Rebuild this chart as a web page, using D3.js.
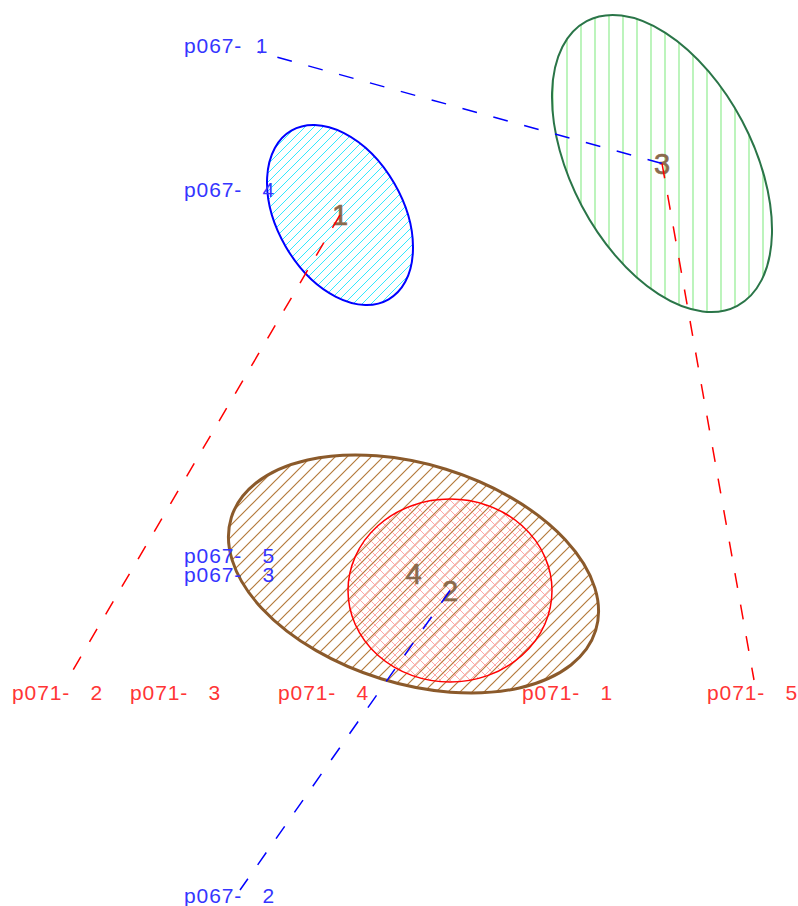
<!DOCTYPE html>
<html>
<head>
<meta charset="utf-8">
<script src="https://cdn.jsdelivr.net/npm/d3@7"></script>
<style>
  html, body { margin: 0; padding: 0; background: #ffffff; }
  svg { display: block; }
  text { font-family: "Liberation Sans", Arial, sans-serif; white-space: pre; }
</style>
</head>
<body>
<svg id="chart" width="798" height="906"></svg>
<script>
// ---- data (plot units; y up) ----
const clusterIds   = ["4", "2", "3", "1"];
const clusterCx    = [0.1687, 0.625, 3.275, -0.75];
const clusterCy    = [-1.5125, -1.719, 3.619, 2.975];
const clusterRx    = [2.384, 1.275, 1.134, 0.785];
const clusterRy    = [1.371, 1.144, 2.0125, 1.2175];
const clusterAngle = [-17.2, 0, 27.9, 30.0];   // degrees, counter-clockwise

const rowLabels = ["p067-  1", "p067-   4", "p067-   5", "p067-   3", "p067-   2"];
const rowX      = [-2.7, -2.7, -2.7, -2.7, -2.7];
const rowY      = [5.0, 3.2, -1.375, -1.6125, -5.625];

const colLabels = ["p071-   2", "p071-   3", "p071-   4", "p071-   1", "p071-   5"];
const colX      = [-4.85, -3.375, -1.525, 1.525, 3.8375];
const colY      = [-3.0875, -3.0875, -3.0875, -3.0875, -3.0875];

const linkCluster = ["3", "2", "1", "3"];
const linkGroup   = ["row", "row", "col", "col"];
const linkX       = [-1.775, -2.0, -4.0875, 4.425];
const linkY       = [5.0125, -5.4625, -2.7125, -2.8375];

// ---- scales ----
const x = d3.scaleLinear().domain([-5, 5]).range([0, 800]);
const y = d3.scaleLinear().domain([-5, 5]).range([853, 53]);
const len = v => x(v) - x(0);

const svg = d3.select("#chart");
const defs = svg.append("defs");

const styles = {
  "4": {stroke: "#8b5a2b", sw: 3,   pat: "hatchBrown"},
  "2": {stroke: "#ff0000", sw: 1.5, pat: "hatchPink"},
  "3": {stroke: "#2a7548", sw: 2,   pat: "hatchGreen"},
  "1": {stroke: "#0000ff", sw: 2,   pat: "hatchCyan"}
};

function pattern(id, size, d, color, w, crisp) {
  defs.append("pattern").attr("id", id)
    .attr("patternUnits", "userSpaceOnUse")
    .attr("width", size).attr("height", size)
    .append("path").attr("d", d)
    .attr("stroke", color).attr("stroke-width", w).attr("fill", "none")
    .attr("shape-rendering", crisp ? "crispEdges" : "auto");
}
const diag = s => `M0,${s}L${s},0M-2,2L2,-2M${s-2},${s+2}L${s+2},${s-2}`;
const anti = s => `M0,0L${s},${s}M-2,${s-2}L2,${s+2}M${s-2},-2L${s+2},2`;
pattern("hatchCyan", 9, diag(9), "#33e8ff", 1, true);
pattern("hatchBrown", 12, diag(12), "#b47a3c", 1.2, false);
pattern("hatchPink", 10, diag(10) + anti(10), "#ffa8a8", 1, false);
pattern("hatchGreen", 14, "M7,0L7,14", "#a0f0a0", 1.4, false);

const clusters = clusterIds.map((id, i) => ({
  id, cx: clusterCx[i], cy: clusterCy[i], rx: clusterRx[i], ry: clusterRy[i], angle: clusterAngle[i]
}));

function ellipsePath(c) {
  const cx = x(c.cx), cy = y(c.cy), rx = len(c.rx), ry = len(c.ry);
  const phi = -c.angle; // svg clockwise
  const t = phi * Math.PI / 180;
  const x1 = cx - rx * Math.cos(t), y1 = cy - rx * Math.sin(t);
  const x2 = cx + rx * Math.cos(t), y2 = cy + rx * Math.sin(t);
  return `M${x1},${y1}A${rx},${ry} ${phi} 0 1 ${x2},${y2}A${rx},${ry} ${phi} 0 1 ${x1},${y1}Z`;
}

svg.append("g").selectAll("path").data(clusters).join("path")
  .attr("d", ellipsePath)
  .attr("fill", d => `url(#${styles[d.id].pat})`)
  .attr("stroke", d => styles[d.id].stroke)
  .attr("stroke-width", d => styles[d.id].sw);

// cluster numbers
svg.append("g").selectAll("text").data(clusters).join("text")
  .attr("x", d => x(d.cx)).attr("y", d => y(d.cy))
  .attr("dy", "0.36em")
  .attr("text-anchor", "middle")
  .attr("font-size", 29)
  .attr("fill", "#8b6a4c")
  .attr("stroke", "#8b6a4c").attr("stroke-width", 0.6)
  .text(d => d.id);

// links
const byId = Object.fromEntries(clusters.map(c => [c.id, c]));
const links = linkCluster.map((cid, i) => ({c: byId[cid], group: linkGroup[i], x: linkX[i], y: linkY[i]}));
svg.append("g").selectAll("line").data(links).join("line")
  .attr("x1", d => x(d.c.cx)).attr("y1", d => y(d.c.cy))
  .attr("x2", d => x(d.x)).attr("y2", d => y(d.y))
  .attr("stroke", d => d.group === "row" ? "#0000ff" : "#ff0000")
  .attr("stroke-width", 1.5)
  .attr("stroke-dasharray", "15,17");

// labels
const rows = rowLabels.map((t, i) => ({t, x: rowX[i], y: rowY[i]}));
const cols = colLabels.map((t, i) => ({t, x: colX[i], y: colY[i]}));
svg.append("g").selectAll("text").data(rows).join("text")
  .attr("x", d => x(d.x)).attr("y", d => y(d.y))
  .attr("font-size", 21).attr("letter-spacing", 0.9)
  .attr("fill", "#3535ff")
  .text(d => d.t);
svg.append("g").selectAll("text").data(cols).join("text")
  .attr("x", d => x(d.x)).attr("y", d => y(d.y))
  .attr("font-size", 21).attr("letter-spacing", 0.9)
  .attr("fill", "#ff3535")
  .text(d => d.t);
</script>
</body>
</html>
